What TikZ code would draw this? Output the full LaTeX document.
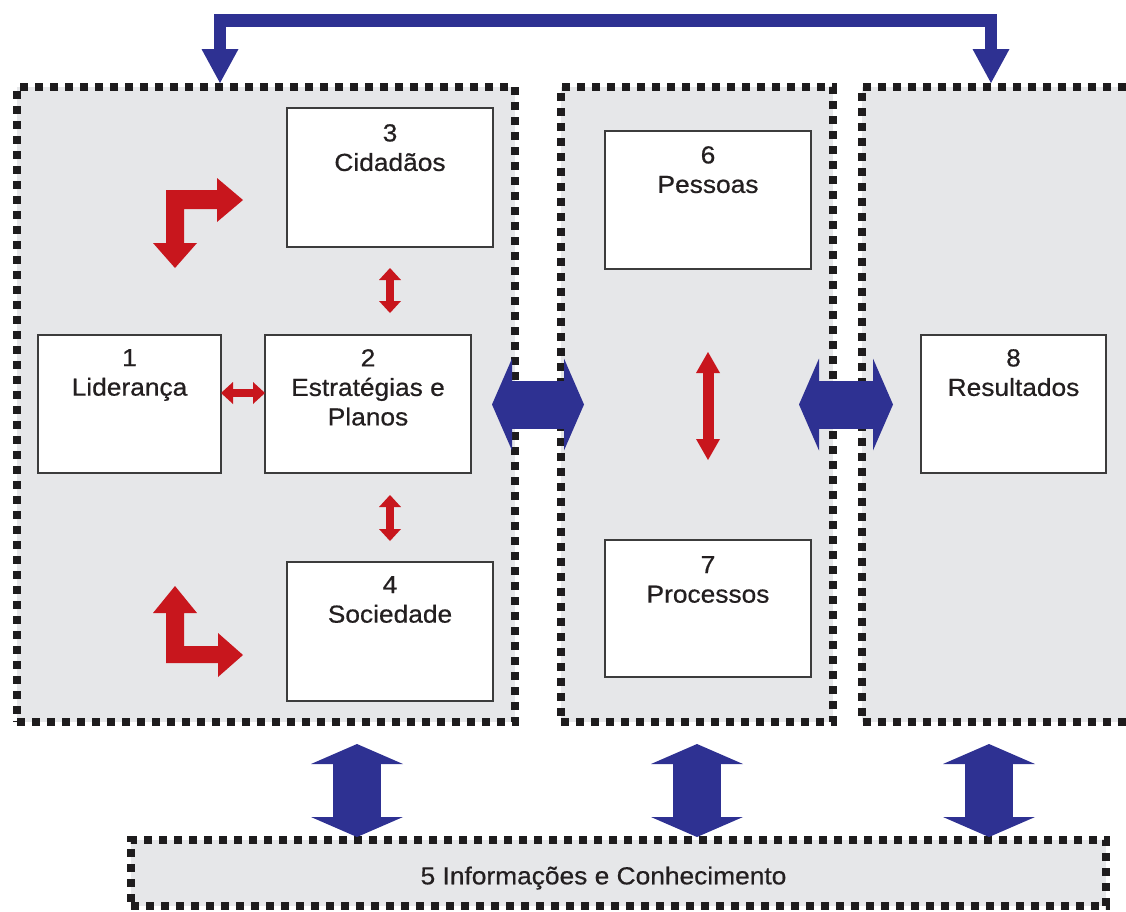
\documentclass[tikz,border=0pt]{standalone}
\usepackage{fontspec}
\setmainfont{Liberation Sans}[FakeStretch=1.07,FakeBold=0.6]
\usetikzlibrary{arrows.meta}
\definecolor{panelgray}{HTML}{E6E7E9}
\definecolor{arrred}{HTML}{C8161D}
\definecolor{arrblue}{HTML}{2E3192}
\definecolor{boxline}{HTML}{3C3C3C}
\definecolor{txt}{HTML}{231F20}
\definecolor{dotblack}{HTML}{1E1C1D}
\begin{document}
\begin{tikzpicture}[x=1pt,y=-1pt,
  panel/.style={fill=panelgray, draw=dotblack, line width=8pt, dash pattern=on 8pt off 7pt,
    inner sep=0pt, outer sep=0pt, anchor=north west},
  panelfill/.style={fill=panelgray, inner sep=0pt, outer sep=0pt, anchor=north west},
  dotline/.style={draw=dotblack, line width=8pt, dash pattern=on 8pt off 7pt},
  wbox/.style={fill=white, draw=boxline, line width=2pt, inner sep=0pt, outer sep=0pt, anchor=north west},
  lbl/.style={text=txt, font=\fontsize{24.6}{29.5}\selectfont, align=center, inner sep=0pt, anchor=north},
  redsm/.style={draw=arrred, line width=8pt,
    {Triangle[width=22pt,length=12pt,line width=0pt]}-{Triangle[width=22pt,length=12pt,line width=0pt]}},
  redmid/.style={draw=arrred, line width=11pt,
    {Triangle[width=24pt,length=21pt,line width=0pt]}-{Triangle[width=24pt,length=21pt,line width=0pt]}},
  bluedbl/.style={draw=arrblue, line width=48pt,
    {Triangle[width=92pt,length=20pt,line width=0pt]}-{Triangle[width=92pt,length=20pt,line width=0pt]}},
  bluetop/.style={draw=arrblue, line width=12.5pt, line join=miter,
    {Triangle[width=37pt,length=34pt,line width=0pt]}-{Triangle[width=37pt,length=34pt,line width=0pt]}}
]
\useasboundingbox (0,0) rectangle (1126,911);

% panels
\node[panel, minimum width=498pt, minimum height=635pt] (pL) at (17,87) {};
\node[panel, minimum width=272pt, minimum height=635pt] (pM) at (561,87) {};
\node[panelfill, minimum width=264pt, minimum height=635pt] (pR) at (862,87) {};
\draw[dotline] (pR.north east) -- (pR.north west) -- (pR.south west) -- (pR.south east);
\node[panel, minimum width=975pt, minimum height=66pt] (pB) at (131,840) {};

% white boxes
\node[wbox, minimum width=183pt, minimum height=138pt] (b1) at (38,335) {};
\node[wbox, minimum width=206pt, minimum height=138pt] (b2) at (265,335) {};
\node[wbox, minimum width=206pt, minimum height=139pt] (b3) at (287,108) {};
\node[wbox, minimum width=206pt, minimum height=139pt] (b4) at (287,562) {};
\node[wbox, minimum width=206pt, minimum height=138pt] (b6) at (605,131) {};
\node[wbox, minimum width=206pt, minimum height=137pt] (b7) at (605,540) {};
\node[wbox, minimum width=185pt, minimum height=138pt] (b8) at (921,335) {};

% labels
\node[lbl] (t1) at ([yshift=-14pt]b1.north) {1\\Liderança};
\node[lbl] (t2) at ([yshift=-14pt]b2.north) {2\\Estratégias e\\Planos};
\node[lbl] (t3) at ([yshift=-16pt]b3.north) {3\\Cidadãos};
\node[lbl] (t4) at ([yshift=-14pt]b4.north) {4\\Sociedade};
\node[lbl] (t6) at ([yshift=-15pt]b6.north) {6\\Pessoas};
\node[lbl] (t7) at ([yshift=-16pt]b7.north) {7\\Processos};
\node[lbl] (t8) at ([yshift=-14pt]b8.north) {8\\Resultados};
\node[lbl, anchor=center] (t5) at ([xshift=-15pt,yshift=-5pt]pB.center) {5 Informações e Conhecimento};

% red L-shaped arrows
\fill[arrred] (166,190) -- (217,190) -- (217,178) -- (243,200) -- (217,222) -- (217,209)
  -- (184,209) -- (184,243) -- (197,243) -- (175,268) -- (153,243) -- (166,243) -- cycle;
\fill[arrred] (175,586) -- (197,613) -- (184,613) -- (184,646) -- (218,646) -- (218,633)
  -- (243,655) -- (218,677) -- (218,663) -- (166,663) -- (166,613) -- (153,613) -- cycle;

% red double arrows
\draw[redsm, shorten <=21pt, shorten >=22pt] (b3.south) -- (b3.south |- b2.north);
\draw[redsm, shorten <=22pt, shorten >=21pt] (b4.north |- b2.south) -- (b4.north);
\draw[redsm] ([yshift=11pt]b1.east) -- ([yshift=11pt]b2.west);
\draw[redmid, shorten <=83pt, shorten >=80pt] (b6.south) -- (b7.north);

% blue horizontal double arrows
\draw[bluedbl, shorten <=-23pt, shorten >=-23pt] (pL.east) -- (pM.west);
\draw[bluedbl, shorten <=-34pt, shorten >=-31pt] (pM.east) -- (pR.west);

% blue vertical double arrows
\coordinate (v1) at (357,0);
\coordinate (v2) at (697,0);
\coordinate (v3) at (989,0);
\draw[bluedbl, shorten <=22pt, shorten >=3pt] (v1 |- pL.south) -- (v1 |- pB.north);
\draw[bluedbl, shorten <=22pt, shorten >=3pt] (v2 |- pM.south) -- (v2 |- pB.north);
\draw[bluedbl, shorten <=22pt, shorten >=3pt] (v3 |- pR.south) -- (v3 |- pB.north);

% top blue connector
\coordinate (c1) at (220,20.5);
\coordinate (c2) at (991,20.5);
\draw[bluetop, shorten <=4pt, shorten >=4pt] (c1 |- pL.north) -- (c1) -- (c2) -- (c2 |- pR.north);
\end{tikzpicture}
\end{document}
